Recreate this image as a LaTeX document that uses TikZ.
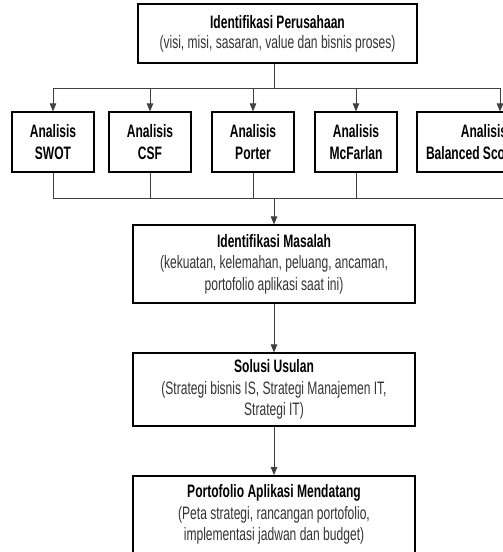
\documentclass[tikz,border=0pt]{standalone}
\usepackage{fontspec}
\setmainfont{Liberation Sans}[FakeStretch=0.67]
\usetikzlibrary{arrows.meta}
\tikzset{
  box/.style={draw=black, line width=1.1pt, align=center, inner sep=0pt,
    font=\fontsize{18}{21.5}\selectfont, text=black!80},
  boxthick/.style={box, line width=2pt},
  link/.style={draw=black!75, line width=0.8pt},
  arr/.style={link, -{Triangle[length=8pt,width=6.5pt]}},
}
\newcommand{\ttl}[1]{\textbf{\color{black}#1}}
\begin{document}
\begin{tikzpicture}[x=1pt,y=-1pt]
\useasboundingbox (0,0) rectangle (503,552);
\clip (0,0) rectangle (503,552);
\node[box, minimum width=279pt, minimum height=59pt, font=\fontsize{18}{20}\selectfont] (top) at (277.5,33.5)
  {\ttl{Identifikasi Perusahaan}\\(visi, misi, sasaran, value dan bisnis proses)};
\node[box, minimum width=82pt, minimum height=60pt] (swot) at (53,142) {\ttl{Analisis}\\\ttl{SWOT}};
\node[box, minimum width=82pt, minimum height=60pt] (csf) at (150,142) {\ttl{Analisis}\\\ttl{CSF}};
\node[box, minimum width=82pt, minimum height=60pt] (porter) at (253,142) {\ttl{Analisis}\\\ttl{Porter}};
\node[box, minimum width=82pt, minimum height=60pt] (mcf) at (356,142) {\ttl{Analisis}\\\ttl{McFarlan}};
\node[box, minimum width=134pt, minimum height=60pt] (bs) at (484,142) {\ttl{Analisis}\\\ttl{Balanced Scorecard}};
\node[box, minimum width=282pt, minimum height=78pt] (masalah) at (274,264)
  {\ttl{Identifikasi Masalah}\\(kekuatan, kelemahan, peluang, ancaman,\\portofolio aplikasi saat ini)};
\node[box, minimum width=282pt, minimum height=73pt] (solusi) at (274,389.5)
  {\ttl{Solusi Usulan}\\(Strategi bisnis IS, Strategi Manajemen IT,\\Strategi IT)};
\node[boxthick, minimum width=282pt, minimum height=77pt] (porto) at (274,514.5)
  {\ttl{Portofolio Aplikasi Mendatang}\\(Peta strategi, rancangan portofolio,\\implementasi jadwan dan budget)};
\coordinate (busT) at (0,88);
\coordinate (busB) at (0,198);
% top fan-out
\draw[link] (top.south -| masalah.north) -- (masalah.north |- busT);
\draw[arr] (masalah.north |- busT) -| (swot.north);
\draw[arr] (masalah.north |- busT) -| (csf.north);
\draw[arr] (masalah.north |- busT) -| (porter.north);
\draw[arr] (masalah.north |- busT) -| (mcf.north);
\draw[arr] (masalah.north |- busT) -| ([xshift=16pt]bs.north);
% bottom fan-in
\draw[link] (swot.south) |- (masalah.north |- busB);
\draw[link] (csf.south) -- (csf.south |- busB);
\draw[link] (porter.south) -- (porter.south |- busB);
\draw[link] (mcf.south) -- (mcf.south |- busB);
\draw[link] ([xshift=24pt]bs.south) |- (masalah.north |- busB);
\draw[arr] (masalah.north |- busB) -- (masalah.north);
% chain
\draw[arr] (masalah.south) -- (solusi.north);
\draw[arr] (solusi.south) -- (porto.north);
\end{tikzpicture}
\end{document}
